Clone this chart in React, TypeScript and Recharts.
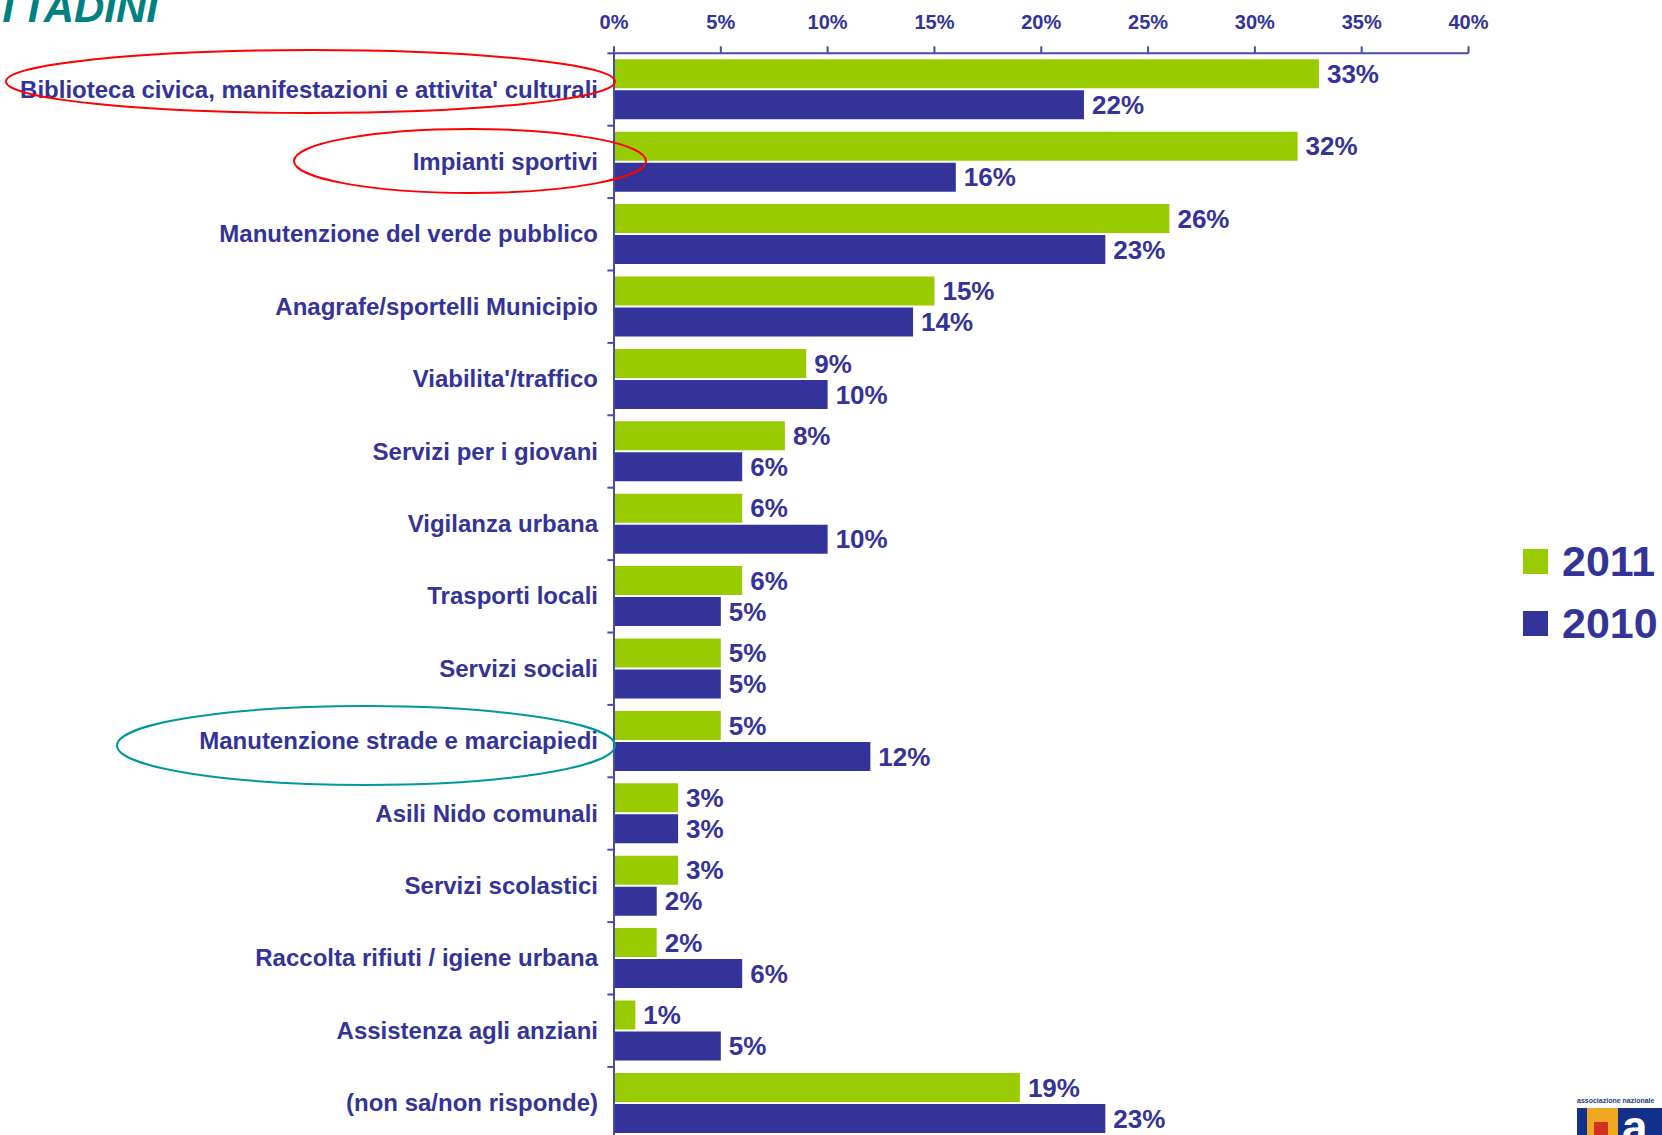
import React from "react";
import { BarChart, Bar, XAxis, YAxis, LabelList, Legend } from "recharts";

const categories = [
  "Biblioteca civica, manifestazioni e attivita' culturali",
  "Impianti sportivi",
  "Manutenzione del verde pubblico",
  "Anagrafe/sportelli Municipio",
  "Viabilita'/traffico",
  "Servizi per i giovani",
  "Vigilanza urbana",
  "Trasporti locali",
  "Servizi sociali",
  "Manutenzione strade e marciapiedi",
  "Asili Nido comunali",
  "Servizi scolastici",
  "Raccolta rifiuti / igiene urbana",
  "Assistenza agli anziani",
  "(non sa/non risponde)",
];
const values2011 = [33, 32, 26, 15, 9, 8, 6, 6, 5, 5, 3, 3, 2, 1, 19];
const values2010 = [22, 16, 23, 14, 10, 6, 10, 5, 5, 12, 3, 2, 6, 5, 23];
const xTicks = [0, 5, 10, 15, 20, 25, 30, 35, 40];

const data = categories.map((name, i) => ({ name, y2011: values2011[i], y2010: values2010[i] }));

const BLUE = "#333399";
const GREEN = "#99CC00";
const AXIS = "#4A4AA8";
const FONT = "'Liberation Sans', Arial, sans-serif";
const BAND = 72.4;

const CategoryTick = (props: any) => {
  const { x, y, payload } = props;
  return (
    <g>
      <line x1={x + 9.4} x2={x + 16} y1={y - BAND / 2} y2={y - BAND / 2} stroke={AXIS} strokeWidth={2} />
      <text x={x} y={y - 0.5} textAnchor="end" dominantBaseline="central" fontFamily={FONT} fontWeight="bold" fontSize={24} fill={BLUE}>
        {payload.value}
      </text>
    </g>
  );
};

const LegendContent = (props: any) => {
  const items = props.payload || [];
  return (
    <div style={{ fontFamily: FONT, fontWeight: "bold", fontSize: 43, color: BLUE, lineHeight: "62px" }}>
      {items.map((it: any) => (
        <div key={it.value} style={{ display: "flex", alignItems: "center", height: 62 }}>
          <span style={{ display: "inline-block", width: 25, height: 25, background: it.color, marginRight: 14 }} />
          <span>{it.value}</span>
        </div>
      ))}
    </div>
  );
};

export default function App() {
  return (
    <div style={{ position: "absolute", left: 0, top: 0, width: 1662, height: 1135, overflow: "hidden", background: "#fff" }}>
      <BarChart
        width={1662}
        height={1200}
        data={data}
        layout="vertical"
        barSize={29}
        barGap={2}
        margin={{ top: 0, right: 193.5, bottom: 60.7, left: 0 }}
      >
        <XAxis
          type="number"
          orientation="top"
          domain={[0, 40]}
          ticks={xTicks}
          interval={0}
          tickFormatter={(v: number) => `${v}%`}
          tickSize={7}
          tickMargin={17}
          axisLine={{ stroke: AXIS, strokeWidth: 2 }}
          tickLine={{ stroke: AXIS, strokeWidth: 2 }}
          tick={{ fill: BLUE, fontFamily: FONT, fontWeight: "bold", fontSize: 20 }}
          height={53.3}
        />
        <YAxis
          type="category"
          dataKey="name"
          width={614}
          interval={0}
          tickLine={false}
          axisLine={{ stroke: AXIS, strokeWidth: 2 }}
          tick={<CategoryTick />}
          tickMargin={10}
        />
        <Legend
          layout="vertical"
          align="center"
          verticalAlign="middle"
          itemSorter={null}
          content={<LegendContent />}
          wrapperStyle={{ position: "absolute", left: 1523, top: 530, width: 139 }}
        />
        <Bar dataKey="y2011" name="2011" fill={GREEN} isAnimationActive={false}>
          <LabelList dataKey="y2011" position="right" offset={8} formatter={(v: number) => `${v}%`} fill={BLUE} fontFamily={FONT} fontWeight="bold" fontSize={26} />
        </Bar>
        <Bar dataKey="y2010" name="2010" fill={BLUE} isAnimationActive={false}>
          <LabelList dataKey="y2010" position="right" offset={8} formatter={(v: number) => `${v}%`} fill={BLUE} fontFamily={FONT} fontWeight="bold" fontSize={26} />
        </Bar>
      </BarChart>
      <svg width={1662} height={1135} style={{ position: "absolute", left: 0, top: 0, pointerEvents: "none" }}>
        <text x={158} y={22} textAnchor="end" fontFamily={FONT} fontWeight="bold" fontStyle="italic" fontSize={42} fill="#008080">CITTADINI</text>
        <ellipse cx={310.5} cy={81.5} rx={304.5} ry={31.5} fill="none" stroke="#FF0000" strokeWidth={2} />
        <ellipse cx={470} cy={161} rx={176} ry={32} fill="none" stroke="#FF0000" strokeWidth={2} />
        <ellipse cx={366} cy={745.5} rx={249} ry={39.5} fill="none" stroke="#009999" strokeWidth={2} />
        <text x={1577} y={1103} fontFamily={FONT} fontWeight="bold" fontSize={7} fill="#1F3A80">associazione nazionale</text>
        <rect x={1577} y={1108} width={85} height={27} fill="#12308A" />
        <rect x={1587} y={1108} width={31} height={27} fill="#F0A820" />
        <rect x={1594} y={1122} width={14} height={13} fill="#D03020" />
        <text x={1622} y={1143} fontFamily={FONT} fontWeight="bold" fontSize={46} fill="#fff">a</text>
      </svg>
    </div>
  );
}
